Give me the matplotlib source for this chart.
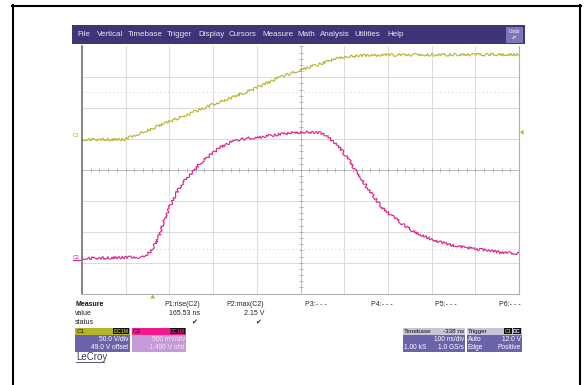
import matplotlib

matplotlib.use("Agg")
import matplotlib.pyplot as plt
import numpy as np
from matplotlib.patches import Rectangle, Polygon

W, H = 586, 385

# scope settings
NS_PER_DIV = 100
T_LEFT = -162          # ns at the left edge, relative to trigger
C1_VDIV, C1_OFS = 50.0, 49.0
C2_VDIV, C2_OFS = 0.5, -1.490
TRIG_LEVEL = 12.0

# C1 (gate drive) in ns / V
c1_t = [-162, -64, 37, 135, 236, 291, 336, 382, 416, 435, 474, 542, 680, 838]
c1_v = [0.4, 0.4, 29.2, 56.2, 83.2, 101.0, 112.8, 122.5, 130.6, 133.4, 135.9, 137.1, 137.5, 138.0]

# C2 (output) in ns / V
c2_t = [-162, -23, -7, 5, 16, 23, 32, 43, 55, 73, 92, 108, 130, 153, 176, 199, 222,
        245, 291, 336, 359, 382, 398, 412, 423, 435, 451, 462, 476, 490, 508, 526,
        547, 565, 584, 604, 625, 641, 680, 719, 755, 794, 838]
c2_v = [0.06, 0.08, 0.16, 0.28, 0.45, 0.62, 0.79, 0.96, 1.13, 1.33, 1.46, 1.60, 1.72,
        1.85, 1.93, 1.98, 2.01, 2.02, 2.07, 2.10, 2.10, 2.09, 2.04, 1.96, 1.88, 1.78,
        1.64, 1.49, 1.36, 1.21, 1.04, 0.87, 0.75, 0.65, 0.55, 0.47, 0.41, 0.36, 0.28,
        0.23, 0.20, 0.16, 0.14]

menu_items = ["File", "Vertical", "Timebase", "Trigger", "Display", "Cursors",
              "Measure", "Math", "Analysis", "Utilities", "Help"]
menu_x = [77, 97, 128, 167, 198, 229, 262, 297, 320, 354, 387]

meas_names = ["P1:rise(C2)", "P2:max(C2)", "P3:- - -", "P4:- - -", "P5:- - -", "P6:- - -"]
meas_values = ["165.53 ns", "2.15 V", "", "", "", ""]
meas_status = ["\u2714", "\u2714", "", "", "", ""]
meas_right = [200, 264, 327, 393, 457, 521]

C1_COL = "#b4b42a"
C2_COL = "#d81f88"
MENU_COL = "#3e3578"
BODY_COL = "#6b63aa"

plt.rcParams["font.family"] = ["Liberation Sans", "DejaVu Sans"]

fig = plt.figure(figsize=(W / 100, H / 100), dpi=100)
fig.patch.set_facecolor("white")

# chrome drawn in pixel coordinates
ui = fig.add_axes([0, 0, 1, 1])
ui.set_xlim(0, W)
ui.set_ylim(H, 0)
ui.axis("off")

ui.plot([12.5, 12.5], [5, H], color="black", lw=1.5)
ui.plot([12, 581], [5.5, 5.5], color="black", lw=1.5)
ui.plot([580, 580], [5, H], color="black", lw=1.5)

ui.add_patch(Rectangle((72, 25), 453, 19, color=MENU_COL, lw=0))
for name, x in zip(menu_items, menu_x):
    ui.text(x, 35, name, color="#e8e6f4", fontsize=5.8, va="center", ha="left")
ui.add_patch(Rectangle((505.5, 26.5), 17.5, 16, color="#7c75b6", lw=0))
ui.text(514, 31.5, "Undo", color="white", fontsize=3.4, ha="center", va="center")
ui.text(514, 38, "\u21b6", color="white", fontsize=4, ha="center", va="center",
        family=["DejaVu Sans"])

# measurement table
ui.text(75, 305, "Measure", fontsize=5, weight="bold", color="#111", va="center")
ui.text(75, 313.5, "value", fontsize=5, color="#222", va="center")
ui.text(75, 322, "status", fontsize=5, color="#222", va="center")
for name, val, st, xr in zip(meas_names, meas_values, meas_status, meas_right):
    ui.text(xr, 305, name, fontsize=5, color="#222", ha="right", va="center")
    if val:
        ui.text(xr, 313.5, val, fontsize=5, color="#222", ha="right", va="center")
    if st:
        ui.text(xr - 3, 322, st, fontsize=5, color="#222", ha="right", va="center",
                family=["DejaVu Sans"])


def badge(xr, text, col):
    bw = 3.4 * len(text) + 1.5
    ui.add_patch(Rectangle((xr - bw, 328.3), bw, 6, color="#111", lw=0))
    ui.text(xr - bw / 2, 331.3, text, fontsize=3.8, color=col,
            ha="center", va="center", weight="bold")
    return xr - bw


def chan_box(x0, x1, head_col, body_col, head_txt, rows, txt_col="white",
             left_rows=None):
    ui.add_patch(Rectangle((x0, 327.5), x1 - x0, 24, color=body_col, lw=0))
    ui.add_patch(Rectangle((x0, 327.5), x1 - x0, 7.5, color=head_col, lw=0))
    ui.text(x0 + 1.5, 331.3, head_txt, fontsize=4.6, color="#111", va="center")
    for i, r in enumerate(rows):
        ui.text(x1 - 1, 339.5 + i * 8, r, fontsize=4.8, color=txt_col,
                ha="right", va="center")
    for i, r in enumerate(left_rows or []):
        if r:
            ui.text(x0 + 1.5, 339.5 + i * 8, r, fontsize=4.8, color=txt_col,
                    ha="left", va="center")


chan_box(75, 129.5, C1_COL, BODY_COL, "C1", ["50.0 V/div", "49.0 V offset"])
badge(128.5, "DC1M", C1_COL)
chan_box(131.5, 186, "#f01a8c", "#c69ad6", "C2", ["500 mV/div", "-1.490 V ofst"],
         txt_col="#f3e6f8")
badge(185, "DC1M", "#f01a8c")
chan_box(402.5, 465, "#c7c5da", BODY_COL, "Timebase", ["100 ns/div", "1.0 GS/s"],
         left_rows=["", "1.00 kS"])
ui.text(464, 331.3, "-338 ns", fontsize=4.6, color="#111", ha="right", va="center")
chan_box(466.5, 522, "#c7c5da", BODY_COL, "Trigger", ["12.0 V", "Positive"],
         left_rows=["Auto", "Edge"])
xb = badge(521, "DC", "white")
badge(xb - 0.8, "C1", C1_COL)

ui.text(76, 357, "LeCroy", fontsize=7, color="#3b3b5a", va="center")
ui.plot([76, 104], [361.5, 361.5], color="#3b3b5a", lw=0.6)

# grid / trace window
gx0, gx1, gy0, gy1 = 82, 519, 46.4, 293.6
sc = fig.add_axes([gx0 / W, 1 - gy1 / H, (gx1 - gx0) / W, (gy1 - gy0) / H])
t_right = T_LEFT + 10 * NS_PER_DIV
sc.set_xlim(T_LEFT, t_right)
sc.set_ylim(-4, 4)
sc.set_xticks([])
sc.set_yticks([])
sc.patch.set_alpha(0)
for side in ["top", "bottom", "right"]:
    sc.spines[side].set_color("#b0b0b0")
    sc.spines[side].set_linewidth(0.8)
sc.spines["top"].set_visible(False)
sc.spines["left"].set_color("#707070")
sc.spines["left"].set_linewidth(1.2)
sc.spines["left"].set_linestyle((0, (2, 1)))

t_center = T_LEFT + 5 * NS_PER_DIV
for k in range(1, 10):
    sc.axvline(T_LEFT + k * NS_PER_DIV, color="#d6d6d6", lw=0.6, zorder=0)
for k in range(-3, 4):
    sc.axhline(k, color="#d6d6d6", lw=0.6, zorder=0)
sc.axhline(0, color="#bdbdbd", lw=0.7, zorder=0)
sc.axvline(t_center, color="#bdbdbd", lw=0.7, zorder=0)
for yd in (2.52, -2.56):
    sc.axhline(yd, color="#cfcfcf", lw=0.7, ls=(0, (1, 3)), zorder=0)

# minor ticks along the center lines
tk = np.arange(T_LEFT, t_right + 1, NS_PER_DIV / 5)
sc.plot(tk, np.zeros_like(tk), ls="none", marker="|", ms=3, mew=0.6, color="#aaaaaa")
vk = np.arange(-4, 4.01, 0.2)
sc.plot(np.full_like(vk, t_center), vk, ls="none", marker="_", ms=3, mew=0.6,
        color="#aaaaaa")

c1_div = (np.array(c1_v) + C1_OFS) / C1_VDIV
c2_div = (np.array(c2_v) + C2_OFS) / C2_VDIV
l1, = sc.plot(c1_t, c1_div, color=C1_COL, lw=0.8, clip_on=False)
l2, = sc.plot(c2_t, c2_div, color=C2_COL, lw=0.8, clip_on=False)
l1.set_sketch_params(scale=1.3, length=1.8, randomness=8)
l2.set_sketch_params(scale=1.3, length=1.8, randomness=8)

# channel ground markers
y1_px = gy1 - (C1_OFS / C1_VDIV + 4) / 8 * (gy1 - gy0)
y2_px = gy1 - (C2_OFS / C2_VDIV + 4) / 8 * (gy1 - gy0)
ui.text(76.5, y1_px - 4, "C1", fontsize=3.8, color=C1_COL, ha="center", va="center")
ui.text(76.5, y2_px - 5, "C2", fontsize=3.8, color=C2_COL, ha="center", va="center")
ui.plot([73, 80], [y2_px - 2, y2_px - 2], color=C2_COL, lw=0.8)

# trigger level and position markers
ty = gy1 - ((TRIG_LEVEL + C1_OFS) / C1_VDIV + 4) / 8 * (gy1 - gy0)
ui.add_patch(Polygon([[520, ty], [523.5, ty - 2.5], [523.5, ty + 2.5]], color=C1_COL, lw=0))
tx = gx0 + (0 - T_LEFT) / (t_right - T_LEFT) * (gx1 - gx0)
ui.add_patch(Polygon([[tx, 294.5], [tx - 2.5, 298.5], [tx + 2.5, 298.5]], color=C1_COL, lw=0))

fig.savefig("out.png", dpi=100)
